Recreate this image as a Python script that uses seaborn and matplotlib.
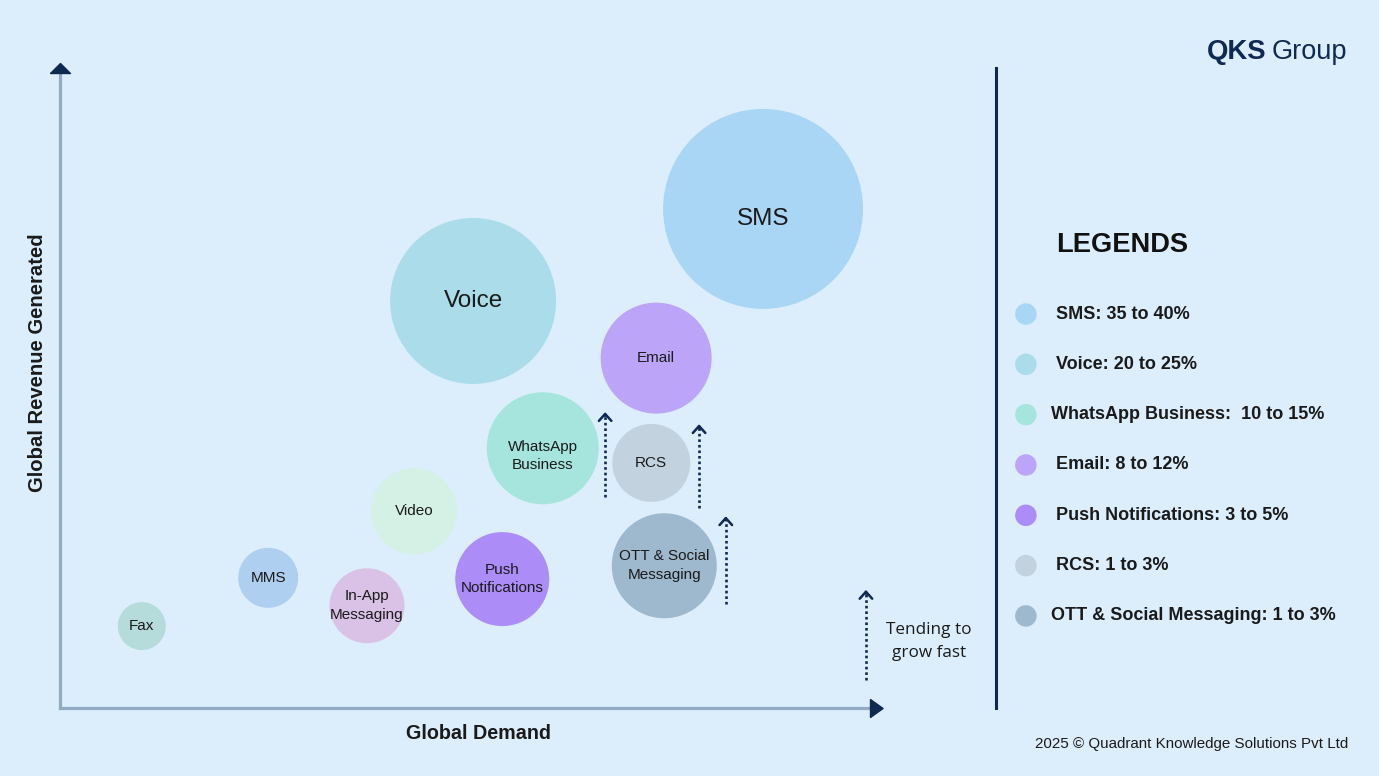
import numpy as np
import pandas as pd
import seaborn as sns
import matplotlib.pyplot as plt
from matplotlib.path import Path

# Kanäle, Position (Nachfrage / Umsatz) und relative Blasengröße
channels = ["SMS", "Voice", "Email", "WhatsApp Business", "RCS", "Video",
            "OTT & Social Messaging", "Push Notifications", "MMS", "In-App Messaging", "Fax"]
bubble_labels = ["SMS", "Voice", "Email", "WhatsApp\nBusiness", "RCS", "Video",
                 "OTT & Social\nMessaging", "Push\nNotifications", "MMS", "In-App\nMessaging", "Fax"]
demand = [86.8, 51.0, 73.6, 59.6, 73.0, 43.7, 74.6, 54.6, 25.7, 37.9, 10.1]
revenue = [78.6, 64.1, 55.1, 40.9, 38.6, 31.0, 22.4, 20.3, 20.5, 16.1, 12.9]
bubble_weight = [100, 83, 55.5, 56, 39, 43, 52.5, 47, 30, 37.5, 24]

colors = ["#A9D6F5", "#AADDE9", "#BCA5F9", "#A6E5DD", "#C2D3DF", "#D5F1E5",
          "#9EB8CD", "#AC8CF7", "#AECFEF", "#D9C2E6", "#B6DBDB"]

# Legende (Marktanteile)
legend_channels = ["SMS", "Voice", "WhatsApp Business", "Email", "Push Notifications",
                   "RCS", "OTT & Social Messaging"]
legend_labels = [" SMS: 35 to 40%", " Voice: 20 to 25%", "WhatsApp Business:  10 to 15%",
                 " Email: 8 to 12%", " Push Notifications: 3 to 5%", " RCS: 1 to 3%",
                 "OTT & Social Messaging: 1 to 3%"]

# schnell wachsende Kanäle: (x, y von, y bis)
growth_arrows = [(67.3, 33.2, 46.6), (78.9, 31.5, 44.7), (82.2, 16.4, 30.2), (99.5, 4.4, 18.6)]

W, H = 1379, 776
bg = "#DCEEFC"
navy = "#0F2A52"
axis_grey = "#93ABC2"
txt = "#1A1A1A"
label_nudge = {"SMS": 1.6, "WhatsApp Business": 1.2}   # Beschriftung etwas tiefer

sns.set_style("white")
plt.rcParams["font.family"] = ["Liberation Sans", "DejaVu Sans"]

df = pd.DataFrame({"channel": channels, "demand": demand, "revenue": revenue,
                   "weight": bubble_weight})
px_per_unit = 1.0  # Gewicht -> Radius in Pixel
df["s"] = (2 * df["weight"] * px_per_unit * 0.72) ** 2
palette = dict(zip(channels, colors))

fig = plt.figure(figsize=(W / 100, H / 100), dpi=100, facecolor=bg)

ax = fig.add_axes([60 / W, (H - 708) / H, 810 / W, 635 / H])
ax.set_facecolor(bg)
sns.scatterplot(data=df, x="demand", y="revenue", hue="channel", palette=palette,
                size="s", sizes=(df["s"].min(), df["s"].max()),
                size_norm=(df["s"].min(), df["s"].max()),
                linewidth=0, alpha=1, legend=False, ax=ax, zorder=2)
ax.set_xlim(0, 100)
ax.set_ylim(0, 100)
ax.set_xticks([])
ax.set_yticks([])
for side in ["top", "right"]:
    ax.spines[side].set_visible(False)
for side in ["left", "bottom"]:
    ax.spines[side].set_color(axis_grey)
    ax.spines[side].set_linewidth(2.3)

for ch, lab, x, y, w in zip(channels, bubble_labels, demand, revenue, bubble_weight):
    fs = 17.5 if w >= 80 else 11
    ax.text(x, y - label_nudge.get(ch, 0), lab, ha="center", va="center", fontsize=fs,
            color=txt, linespacing=1.42, zorder=3)

# Pfeilspitzen der Achsen
up_head = Path([(-1, 0), (1, 0), (0, 1), (-1, 0)])
right_head = Path([(0, -1), (0, 1), (1.4, 0), (0, -1)])
ax.plot(0, 100, marker=up_head, ms=14.4, color=navy, clip_on=False, zorder=4)
ax.plot(100, 0, marker=right_head, ms=18.1, color=navy, clip_on=False, zorder=4)

ax.set_xlabel("Global Demand", fontsize=14.2, fontweight="bold", color=txt)
ax.xaxis.set_label_coords((479 - 60) / 810, -0.025)
ax.set_ylabel("Global Revenue Generated", fontsize=14.6, fontweight="bold", color=txt)
ax.yaxis.set_label_coords(-0.0165, (708 - 363) / 635)

# gepunktete Wachstumspfeile
for x, y0, y1 in growth_arrows:
    ax.plot([x, x], [y0, y1 - 0.6], color=navy, lw=1.9, ls=(0, (1, 1.1)),
            clip_on=False, zorder=3)
    ax.annotate("", xy=(x, y1), xytext=(x, y1 - 0.6), annotation_clip=False,
                arrowprops=dict(arrowstyle="->,head_length=0.5,head_width=0.45",
                                color=navy, lw=1.8, shrinkA=0, shrinkB=0))
ax.text(107.3, 10.5, "Tending to\ngrow fast", ha="center", va="center",
        fontsize=12.3, color=txt, linespacing=1.6, family=["Open Sans", "DejaVu Sans"])

# Legende rechts
lax = fig.add_axes([996 / W, (H - 708) / H, 383 / W, 640 / H])
lax.set_facecolor("none")
rows = np.arange(len(legend_channels))
sns.scatterplot(x=[0.078] * len(rows), y=rows, hue=legend_channels,
                palette=palette, s=240, linewidth=0, legend=False, ax=lax)
lax.set_xlim(0, 1)
lax.set_ylim(7.83, -4.89)
lax.set_xticks([])
lax.set_yticks([])
for side in ["top", "right", "bottom"]:
    lax.spines[side].set_visible(False)
lax.spines["left"].set_color(navy)
lax.spines["left"].set_linewidth(2.2)
for r, lab in zip(rows, legend_labels):
    lax.text(0.1436, r, lab, ha="left", va="center", fontsize=13,
             fontweight="bold", color=txt)

fig.text(1056 / W, 1 - 245 / H, "LEGENDS", ha="left", va="center",
         fontsize=19.6, fontweight="bold", color="#111111")

# Logo und Fußzeile
fig.text(1207 / W, 1 - 52 / H, "QKS", ha="left", va="center", fontsize=19.8,
         fontweight="bold", color=navy)
fig.text(1272 / W, 1 - 52 / H, "Group", ha="left", va="center", fontsize=19.5,
         color=navy)
fig.text(1348 / W, 1 - 744 / H, "2025 © Quadrant Knowledge Solutions Pvt Ltd",
         ha="right", va="center", fontsize=10.9, color=txt)

plt.savefig("out.png", dpi=100, facecolor=bg)
